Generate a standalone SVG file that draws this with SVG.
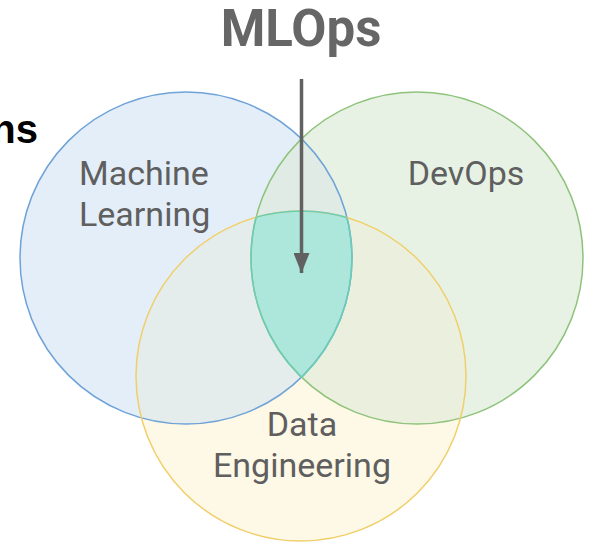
<svg xmlns="http://www.w3.org/2000/svg" width="592" height="544" viewBox="0 0 592 544">
<style>
.lbl{font-family:Roboto,"Liberation Sans",sans-serif;font-size:34px;fill:#5f5f5f}
.title{font-family:Roboto,"Liberation Sans",sans-serif;font-size:51px;font-weight:bold;fill:#666666}
</style>
<defs>
<clipPath id="cB"><circle cx="186" cy="258" r="166"/></clipPath>
<clipPath id="cG"><circle cx="417" cy="258" r="166"/></clipPath>
<clipPath id="cY"><circle cx="301" cy="376" r="165"/></clipPath>
<marker id="ah" viewBox="0 0 20 16" refX="20" refY="8" markerWidth="20" markerHeight="16" markerUnits="userSpaceOnUse" orient="auto">
<path d="M0,0 L20,8 L0,16 Z" fill="#616161"/>
</marker>
</defs>
<rect width="592" height="544" fill="#ffffff"/>
<g id="ml">
<circle cx="186" cy="258" r="166" fill="#e4eef8"/>
</g>
<g id="devops">
<circle cx="417" cy="258" r="166" fill="#e7f2e5"/>
</g>
<g id="de">
<circle cx="301" cy="376" r="165" fill="#fef8e6"/>
</g>
<g id="overlaps">
<g clip-path="url(#cB)"><circle cx="417" cy="258" r="166" fill="#dfebe4"/></g>
<g clip-path="url(#cB)"><circle cx="301" cy="376" r="165" fill="#e4ecec"/></g>
<g clip-path="url(#cG)"><circle cx="301" cy="376" r="165" fill="#eaf0dd"/></g>
<g clip-path="url(#cB)"><g clip-path="url(#cG)"><circle cx="301" cy="376" r="165" fill="#ade6da"/></g></g>
</g>
<g id="outlines" fill="none" stroke-width="1.5">
<circle cx="186" cy="258" r="166" stroke="#6fa3d8"/>
<circle cx="417" cy="258" r="166" stroke="#8fc37c"/>
<circle cx="301" cy="376" r="165" stroke="#f0cf6a"/>
<g clip-path="url(#cB)"><g clip-path="url(#cG)"><circle cx="301" cy="376" r="165" stroke="#6ccdb6"/></g></g>
<g clip-path="url(#cB)"><g clip-path="url(#cY)"><circle cx="417" cy="258" r="166" stroke="#6ccdb6"/></g></g>
<g clip-path="url(#cG)"><g clip-path="url(#cY)"><circle cx="186" cy="258" r="166" stroke="#6ccdb6"/></g></g>
</g>
<g id="labels">
<text class="lbl" x="79" y="185">Machine</text>
<text class="lbl" x="79" y="226">Learning</text>
<text class="lbl" x="466" y="185" text-anchor="middle">DevOps</text>
<text class="lbl" x="302" y="436" text-anchor="middle">Data</text>
<text class="lbl" x="302" y="477" text-anchor="middle">Engineering</text>
</g>
<g id="title">
<text class="title" x="301" y="46" text-anchor="middle">MLOps</text>
</g>
<text x="38" y="143" text-anchor="end" font-family="'Liberation Sans',Arial,sans-serif" font-size="40" font-weight="bold" fill="#000000">ns</text>
<g id="connectors">
<line x1="301.5" y1="79" x2="301.5" y2="273" stroke="#616161" stroke-width="3.5" marker-end="url(#ah)"/>
</g>
</svg>
